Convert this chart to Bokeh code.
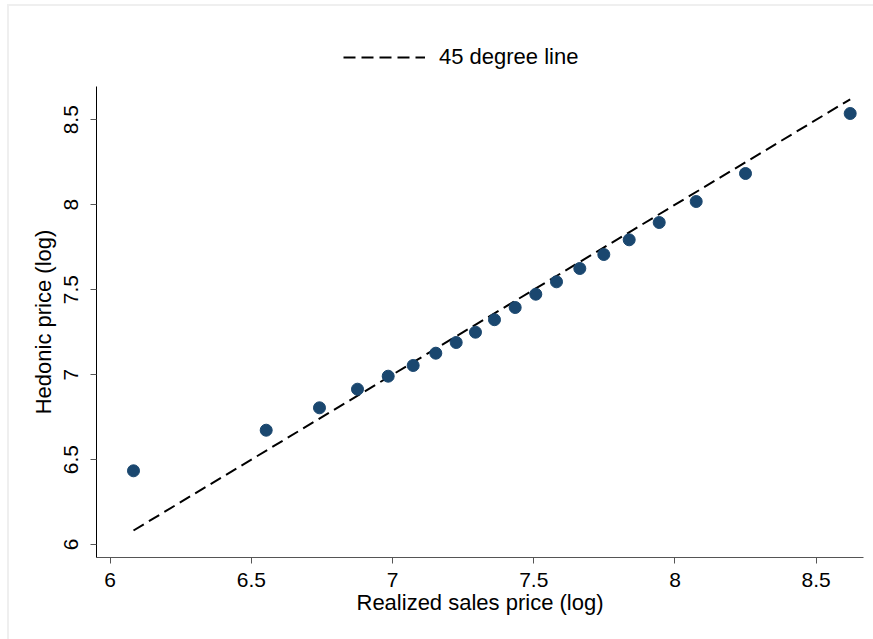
from bokeh.plotting import figure
from bokeh.models import Legend, LegendItem, Range1d, FixedTicker
from bokeh.layouts import column
from bokeh.embed import file_html
from bokeh.resources import INLINE

# Data
realized = [6.0825, 6.5524, 6.7411, 6.8757, 6.9844, 7.0729, 7.1530, 7.2252, 7.2935, 7.3608,
            7.4341, 7.5071, 7.5804, 7.6629, 7.7479, 7.8378, 7.9441, 8.0751, 8.2497, 8.6204]
hedonic = [6.4338, 6.6727, 6.8046, 6.9141, 6.9906, 7.0536, 7.1260, 7.1889, 7.2496, 7.3231,
           7.3949, 7.4732, 7.5462, 7.6245, 7.7069, 7.7934, 7.8952, 8.0188, 8.1836, 8.5368]
line_x = [min(realized), max(realized)]
line_y = [min(realized), max(realized)]
x_ticks = [6, 6.5, 7, 7.5, 8, 8.5]
y_ticks = [6, 6.5, 7, 7.5, 8, 8.5]
legend_label = "45 degree line"
x_label = "Realized sales price (log)"
y_label = "Hedonic price (log)"

FONT = "Liberation Sans"
DASH = "12 6"

# ---- legend strip (top) ----
lf = figure(width=864, height=70, output_backend="svg", toolbar_location=None,
            x_range=Range1d(0, 1), y_range=Range1d(0, 1),
            x_axis_type=None, y_axis_type=None,
            min_border_left=0, min_border_right=0, min_border_top=0, min_border_bottom=0)
lf.outline_line_color = None
lf.xgrid.visible = False
lf.ygrid.visible = False
lf.border_fill_color = "white"
# key renderer kept outside the visible range; it only supplies the legend's line style
key = lf.line(x=[0, 1], y=[-5, -5], line_color="black", line_width=2, line_dash=DASH)
legend = Legend(items=[LegendItem(label=legend_label, renderers=[key])],
                location=(247, 6), orientation="horizontal",
                glyph_width=82, glyph_height=20, label_height=20,
                label_standoff=14, padding=0, margin=0, spacing=0,
                label_text_font=FONT, label_text_font_size="22px",
                label_text_color="black",
                border_line_alpha=0, background_fill_alpha=0)
lf.add_layout(legend, "center")

# ---- main plot ----
p = figure(width=864, height=563, output_backend="svg", toolbar_location=None,
           x_range=Range1d(5.9515, 8.6675), y_range=Range1d(5.9235, 8.6957),
           min_border_left=87, min_border_right=10, min_border_top=10, min_border_bottom=82)
p.outline_line_color = None
p.xgrid.visible = False
p.ygrid.visible = False
p.background_fill_color = "white"
p.border_fill_color = "white"

p.line(line_x, line_y, line_color="black", line_width=2, line_dash=DASH)
p.scatter(realized, hedonic, size=12, fill_color="#1a476f", line_color="#1a476f")

for ax, ticks in ((p.xaxis[0], x_ticks), (p.yaxis[0], y_ticks)):
    ax.ticker = FixedTicker(ticks=ticks)
    ax.minor_tick_line_color = None
    ax.major_tick_out = 6
    ax.major_tick_in = 0
    ax.major_tick_line_color = "#555555"
    ax.major_label_text_font = FONT
    ax.major_label_text_font_size = "21px"
    ax.major_label_text_color = "black"
    ax.axis_label_text_font = FONT
    ax.axis_label_text_font_size = "22px"
    ax.axis_label_text_font_style = "normal"
    ax.axis_label_text_color = "black"

p.xaxis.axis_label = x_label
p.yaxis.axis_label = y_label
p.xaxis.axis_line_color = "#555555"
p.yaxis.axis_line_color = "black"
p.xaxis.major_label_standoff = 9
p.xaxis.axis_label_standoff = 0
p.yaxis.major_label_orientation = "vertical"
p.yaxis.major_label_standoff = 12
p.yaxis.axis_label_standoff = 6

layout = column(lf, p, spacing=0)
layout.margin = (6, 0, 0, 9)
layout.styles = {"outline": "2px solid #efefef"}

open("out.html", "w").write(file_html(layout, INLINE))
